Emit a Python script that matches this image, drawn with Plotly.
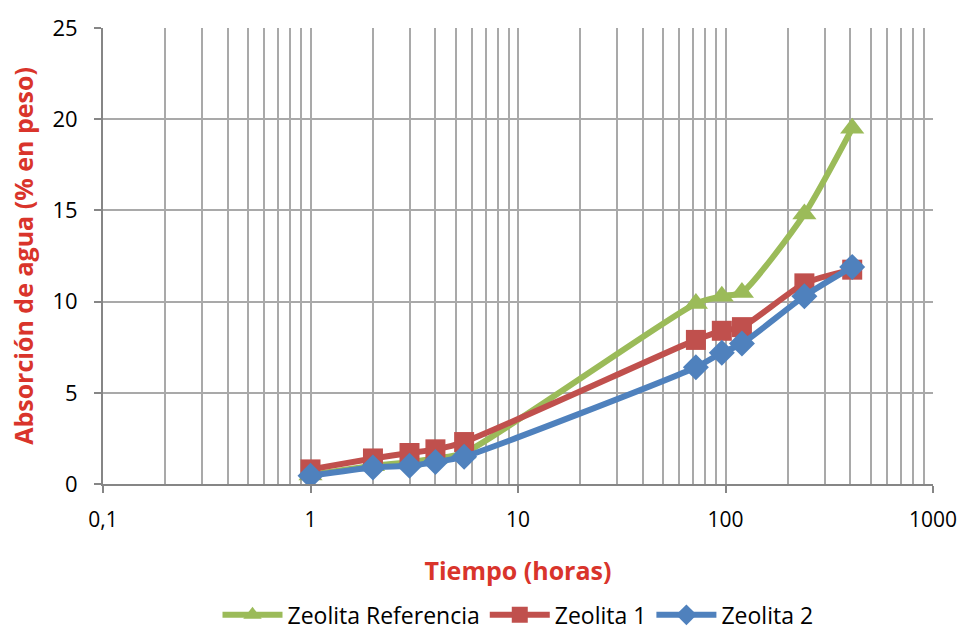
import plotly.graph_objects as go

tiempo = [1, 2, 3, 4, 5.5, 72, 96, 120, 240, 408]
zeolita_ref = [0.5, 1.0, 1.2, 1.4, 1.7, 9.9, 10.3, 10.5, 14.8, 19.5]
zeolita_1 = [0.8, 1.4, 1.7, 1.9, 2.3, 7.9, 8.4, 8.6, 11.0, 11.75]
zeolita_2 = [0.45, 0.9, 1.0, 1.2, 1.5, 6.4, 7.2, 7.7, 10.3, 11.9]

x_tickvals = [0.1, 1, 10, 100, 1000]
x_ticktext = ["0,1", "1", "10", "100", "1000"]
y_tickvals = [0, 5, 10, 15, 20, 25]

minor_vals = [m * 10 ** e for e in range(-1, 3) for m in range(2, 10)]

font_family = "Open Sans, Lato, sans-serif"
title_red = "#d9342b"
grid_col = "#a9a9a9"

fig = go.Figure()
series = [
    ("Zeolita Referencia", zeolita_ref, "#9bbb59", "triangle-up", 21),
    ("Zeolita 1", zeolita_1, "#c0504d", "square", 20),
    ("Zeolita 2", zeolita_2, "#4f81bd", "diamond", 20),
]
for name, vals, col, sym, size in series:
    fig.add_trace(go.Scatter(
        x=tiempo, y=vals, name=name, mode="lines+markers",
        line=dict(color=col, width=6, shape="spline", smoothing=0.6),
        marker=dict(symbol=sym, size=size, color=col),
    ))

fig.update_layout(
    width=959, height=630,
    margin=dict(l=103, r=26, t=28, b=146, autoexpand=False),
    paper_bgcolor="white", plot_bgcolor="white",
    font=dict(family=font_family, size=22, color="#000000"),
    showlegend=True,
    legend=dict(orientation="h", x=0.5, xanchor="center",
                yref="container", y=0.024, yanchor="middle",
                font=dict(size=23), itemwidth=60, tracegroupgap=0),
    xaxis=dict(
        type="log", range=[-1, 3],
        tickvals=x_tickvals, ticktext=x_ticktext,
        showgrid=True, gridcolor=grid_col, gridwidth=2,
        ticks="outside", ticklen=7, tickcolor="#868686", tickwidth=2,
        showline=True, linecolor="#868686", linewidth=2,
        minor=dict(tickvals=minor_vals, showgrid=True, gridcolor=grid_col, gridwidth=2, ticks=""),
        title=dict(text="<b>Tiempo (horas)</b>", font=dict(color=title_red, size=25), standoff=30),
        tickfont=dict(size=21), ticklabelstandoff=9,
        zeroline=False, automargin=False,
    ),
    yaxis=dict(
        range=[0, 25], tickvals=y_tickvals,
        showgrid=True, gridcolor=grid_col, gridwidth=2,
        ticks="outside", ticklen=7, tickcolor="#868686", tickwidth=2,
        showline=True, linecolor="#868686", linewidth=2,
        title=dict(text="<b>Absorción de agua (% en peso)</b>", font=dict(color=title_red, size=25), standoff=12),
        tickfont=dict(size=22), ticklabelstandoff=12,
        zeroline=False, automargin=False,
    ),
)

fig.write_html("out.html")
